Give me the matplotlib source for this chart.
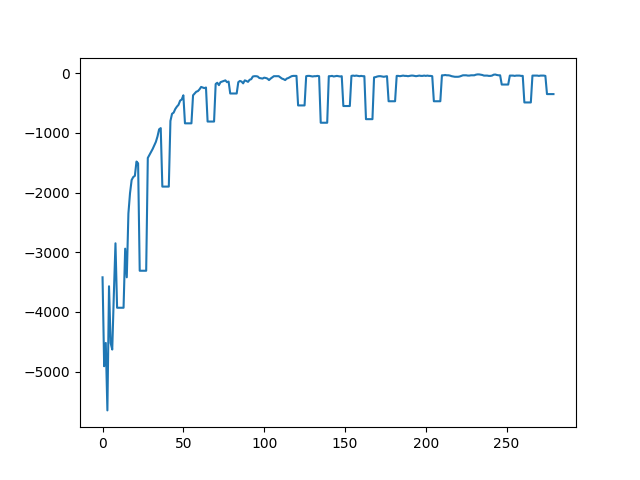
import matplotlib
matplotlib.use("Agg")
import matplotlib.pyplot as plt

# reward per episode
rewards = [
    -3420, -4910, -4520, -5650, -3570, -4520, -4630, -3700, -2850, -3930,
    -3930, -3930, -3930, -3930, -2940, -3420, -2350, -2010, -1790, -1740,
    -1720, -1480, -1510, -3310, -3310, -3310, -3310, -3310, -1420, -1370,
    -1320, -1270, -1210, -1150, -1060, -940, -920, -1900, -1900, -1900,
    -1900, -1900, -800, -680, -660, -600, -560, -530, -460, -440,
    -370, -840, -840, -840, -840, -840, -370, -340, -310, -300,
    -270, -230, -240, -250, -240, -810, -810, -810, -810, -810,
    -180, -160, -200, -150, -140, -130, -120, -150, -140, -340,
    -340, -340, -340, -340, -150, -130, -140, -170, -120, -130,
    -145, -110, -100, -55, -50, -50, -55, -80, -85, -90,
    -75, -80, -90, -115, -90, -70, -50, -50, -50, -50,
    -70, -90, -100, -115, -90, -80, -65, -50, -45, -45,
    -45, -540, -540, -540, -540, -540, -50, -45, -45, -50,
    -55, -50, -50, -45, -50, -830, -830, -830, -830, -830,
    -50, -50, -45, -55, -50, -45, -50, -55, -50, -550,
    -550, -550, -550, -550, -45, -40, -45, -40, -45, -50,
    -45, -50, -50, -770, -770, -770, -770, -770, -70, -65,
    -55, -50, -50, -55, -60, -55, -50, -470, -470, -470,
    -470, -470, -45, -45, -50, -45, -40, -45, -45, -50,
    -45, -40, -40, -45, -50, -45, -40, -45, -45, -40,
    -45, -40, -45, -45, -50, -470, -470, -470, -470, -470,
    -35, -35, -30, -35, -35, -40, -50, -55, -60, -60,
    -60, -55, -45, -35, -35, -35, -40, -40, -35, -35,
    -35, -25, -20, -20, -25, -30, -40, -40, -40, -45,
    -45, -40, -25, -22, -30, -35, -35, -190, -190, -190,
    -190, -190, -40, -40, -40, -45, -40, -40, -40, -45,
    -45, -490, -490, -490, -490, -490, -40, -40, -40, -40,
    -45, -40, -40, -40, -45, -350, -350, -350, -350, -350,
]

fig = plt.figure(figsize=(6.4, 4.8), dpi=100)
plt.plot(rewards)
plt.savefig("out.png")
